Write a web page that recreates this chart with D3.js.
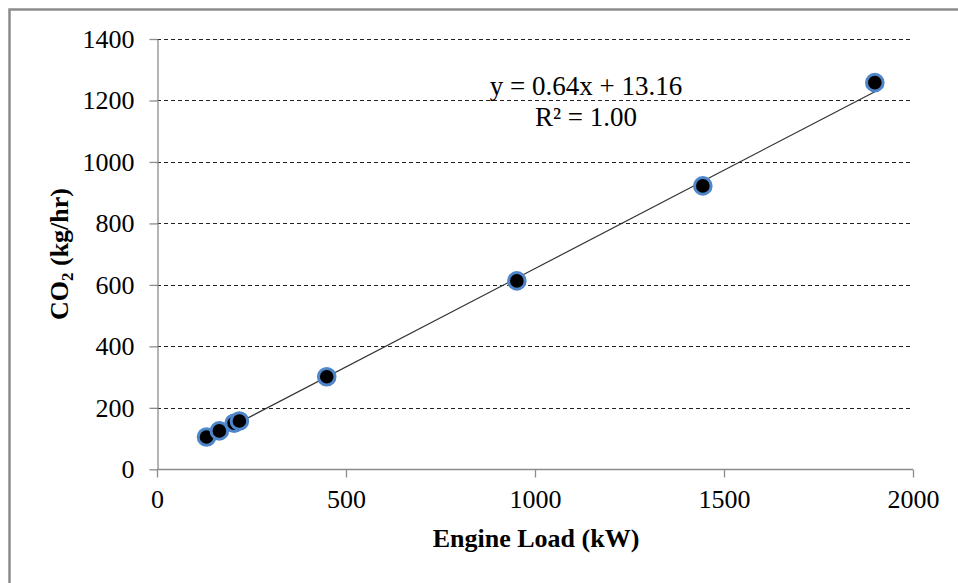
<!DOCTYPE html>
<html>
<head>
<meta charset="utf-8">
<script src="https://cdn.jsdelivr.net/npm/d3@7"></script>
<style>
  html, body { margin: 0; padding: 0; background: #fff; }
  svg { display: block; }
  text { font-family: "Liberation Serif", "Times New Roman", serif; fill: #000; }
</style>
</head>
<body>
<svg id="chart" width="958" height="583"></svg>
<script>
// ---- data ----
const engineLoad = [131, 165, 204, 218, 449, 952, 1444, 1899];
const co2 = [105, 125, 150, 157, 301, 613, 922, 1258];
const xTicks = [0, 500, 1000, 1500, 2000];
const yTicks = [0, 200, 400, 600, 800, 1000, 1200, 1400];
const trendCoef = [0.64, 13.16]; // slope, intercept
const trendLabels = ["y = 0.64x + 13.16", "R\u00B2 = 1.00"];

const svg = d3.select("#chart");
const m = { left: 157, right: 913, top: 39, bottom: 469.3 };

// outer border
svg.append("rect").attr("x", 9.5).attr("y", 9.5).attr("width", 980).attr("height", 620)
  .attr("fill", "#fff").attr("stroke", "#8c8c8c").attr("stroke-width", 2.5);

const x = d3.scaleLinear().domain([0, 2000]).range([m.left, m.right]);
const y = d3.scaleLinear().domain([0, 1400]).range([m.bottom, m.top]);

// gridlines
svg.append("g").selectAll("line").data(yTicks.filter(d => d > 0)).join("line")
  .attr("x1", m.left).attr("x2", m.right)
  .attr("y1", d => Math.round(y(d)) + 0.5).attr("y2", d => Math.round(y(d)) + 0.5)
  .attr("stroke", "#222").attr("stroke-width", 1).attr("stroke-dasharray", "4,3");

// axes
const fmt = d3.format("d");
const xAxis = svg.append("g").attr("transform", `translate(0,${Math.round(m.bottom) + 0.5})`)
  .call(d3.axisBottom(x).tickValues(xTicks).tickFormat(fmt).tickSize(8).tickPadding(12).tickSizeOuter(0));
const yAxis = svg.append("g").attr("transform", `translate(${m.left + 0.5},0)`)
  .call(d3.axisLeft(y).tickValues(yTicks).tickFormat(fmt).tickSize(8).tickPadding(15).tickSizeOuter(0));
[xAxis, yAxis].forEach(a => {
  a.selectAll("path, line").attr("stroke", "#8c8c8c").attr("stroke-width", 1.3);
  a.selectAll("text").attr("font-family", "Liberation Serif, serif").attr("font-size", 26).attr("fill", "#000");
});
xAxis.select(".domain").attr("d", `M${m.left},0H${m.right}`);

// trendline
const xMin = d3.min(engineLoad), xMax = d3.max(engineLoad);
svg.append("line")
  .attr("x1", x(xMin)).attr("y1", y(trendCoef[0] * xMin + trendCoef[1]))
  .attr("x2", x(xMax)).attr("y2", y(trendCoef[0] * xMax + trendCoef[1]))
  .attr("stroke", "#333").attr("stroke-width", 1.2);

// points
svg.append("g").selectAll("circle").data(engineLoad.map((d, i) => [d, co2[i]])).join("circle")
  .attr("cx", d => x(d[0])).attr("cy", d => y(d[1])).attr("r", 8.3)
  .attr("fill", "#000").attr("stroke", "#4f86c9").attr("stroke-width", 3);

// trend labels
svg.append("text").attr("x", 586).attr("y", 95).attr("text-anchor", "middle")
  .attr("font-size", 27).text(trendLabels[0]);
svg.append("text").attr("x", 586).attr("y", 126).attr("text-anchor", "middle")
  .attr("font-size", 27).text(trendLabels[1]);

// axis titles
svg.append("text").attr("x", 536).attr("y", 547).attr("text-anchor", "middle")
  .attr("font-size", 26).attr("font-weight", "bold").text("Engine Load (kW)");
const yt = svg.append("text").attr("transform", "translate(68,254) rotate(-90)")
  .attr("text-anchor", "middle").attr("font-size", 26).attr("font-weight", "bold");
yt.append("tspan").text("CO");
yt.append("tspan").attr("font-size", 17).attr("dy", 5).text("2");
yt.append("tspan").attr("dy", -5).text(" (kg/hr)");
</script>
</body>
</html>
